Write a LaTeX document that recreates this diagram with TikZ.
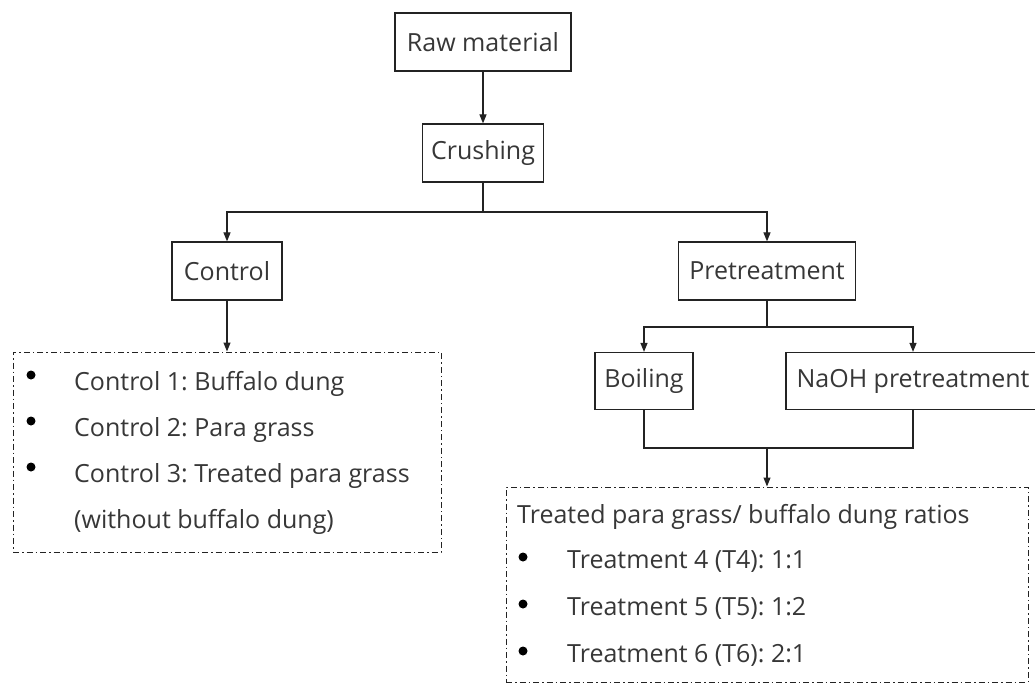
\documentclass[tikz,border=0pt]{standalone}
\usepackage{fontspec}
\setmainfont{Open Sans}
\usepackage{xcolor}
\usepackage{tikz}
\usetikzlibrary{arrows.meta,positioning,calc}
\definecolor{inkgray}{RGB}{55,55,55}
\definecolor{linegray}{RGB}{35,35,35}
\frenchspacing

\begin{document}
\begin{tikzpicture}[x=1pt,y=-1pt,font=\fontsize{25}{29}\selectfont,color=inkgray]
\tikzset{stepbox/.style={draw=linegray,line width=1.2pt,minimum height=58pt,inner sep=0pt},
  listbox/.style={draw=linegray,line width=1pt,dash pattern=on 6pt off 3pt on 1.5pt off 3pt,inner sep=0pt},
  flow/.style={draw=linegray,line width=1.2pt,-{Triangle[length=9pt,width=7pt]}},
  lnk/.style={draw=linegray,line width=1.2pt},
  item/.style={anchor=base west,inner sep=0pt},
  dot/.style={circle,fill=black,inner sep=0pt,minimum size=9pt}}
\useasboundingbox (0,0) rectangle (1035,684);
\clip (0,0) rectangle (1035,684);
% main steps
\node[stepbox,minimum width=176pt] (raw) at (483,42){Raw material};
\node[stepbox,minimum width=121pt] (crush) at (483,153){Crushing};
\node[stepbox,minimum width=110pt] (ctrl) at (227,271){Control};
\node[stepbox,minimum width=177pt] (pre) at (767,271){Pretreatment};
\node[stepbox,minimum width=98pt,minimum height=57pt] (boil) at (644,381){Boiling};
\node[stepbox,minimum width=254pt,minimum height=57pt] (naoh) at (913,381){NaOH pretreatment};
% control list
\node[listbox,minimum width=428pt,minimum height=200pt] (ctrllist) at (227,452){};
\foreach \t [count=\i] in {Control 1: Buffalo dung,Control 2: Para grass,Control 3: Treated para grass}{
  \node[dot] (cb\i) at (31,{375+46*(\i-1)}){};
  \node[item] (ct\i) at (74,{390+46*(\i-1)}){\t};
}
\node[item] (ct4) at (74,528){(without buffalo dung)};
% treatment list
\node[listbox,minimum width=522pt,minimum height=195pt] (trtlist) at (767,584.5){};
\node[item] (th) at (517,523){Treated para grass/ buffalo dung ratios};
\foreach \t [count=\i] in {Treatment 4 (T4): 1:1,Treatment 5 (T5): 1:2,Treatment 6 (T6): 2:1}{
  \node[dot] (tb\i) at (523,{557+47*(\i-1)}){};
  \node[item] (tt\i) at (567,{568+47*(\i-1)}){\t};
}
% connectors
\coordinate (s1) at (483,212);
\coordinate (s2) at (767,327);
\coordinate (m1) at (767,448);
\draw[flow] (raw) -- (crush);
\draw[lnk] (crush.south) -- (s1);
\draw[flow] (s1) -| (ctrl.north);
\draw[flow] (s1) -| (pre.north);
\draw[flow] (ctrl.south) -- (ctrllist.north);
\draw[lnk] (pre.south) -- (s2);
\draw[flow] (s2) -| (boil.north);
\draw[flow] (s2) -| (naoh.north);
\draw[lnk] (boil.south) |- (m1) -| (naoh.south);
\draw[flow] (m1) -- (trtlist.north);
\end{tikzpicture}
\end{document}
